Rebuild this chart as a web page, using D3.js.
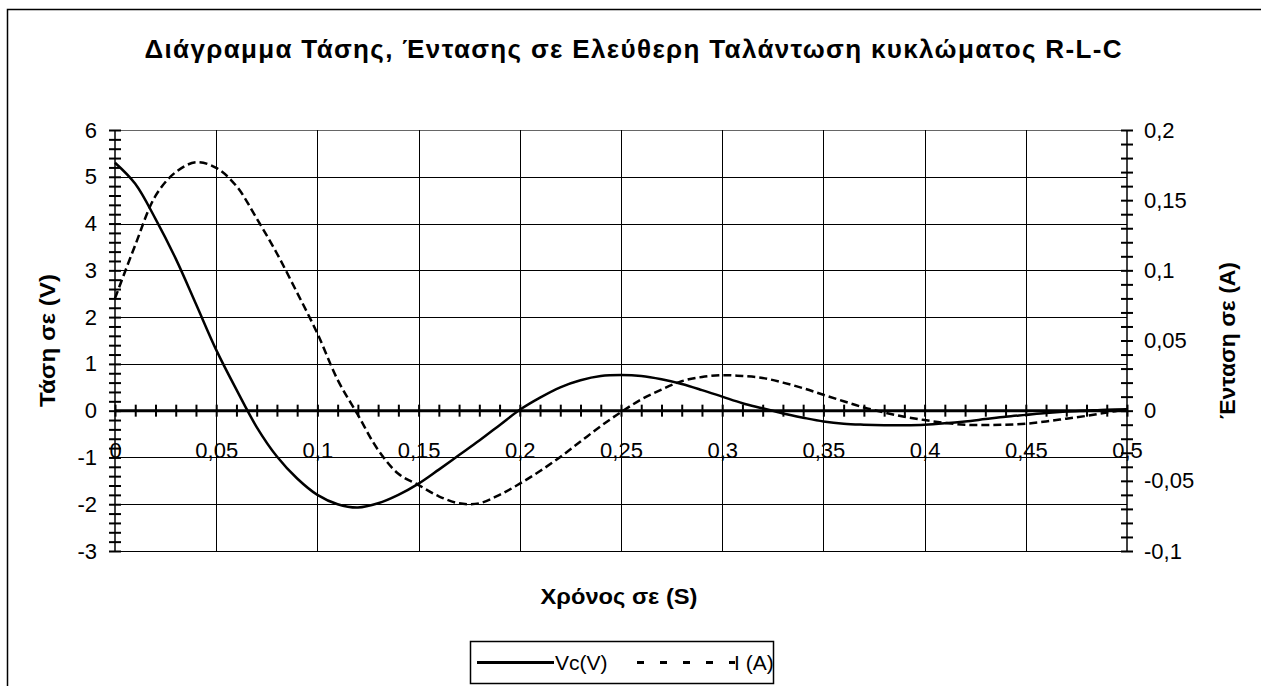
<!DOCTYPE html>
<html>
<head>
<meta charset="utf-8">
<script src="https://cdn.jsdelivr.net/npm/d3@7"></script>
<style>
body { margin: 0; background: #fff; }
svg text { font-family: "Liberation Sans", Arial, sans-serif; fill: #000; }
</style>
</head>
<body>
<svg id="chart" width="1261" height="686"></svg>
<script>
// values, step 0.01 s
const times = [0, 0.01, 0.02, 0.03, 0.04, 0.05, 0.06, 0.07, 0.08, 0.09,
    0.1, 0.11, 0.12, 0.13, 0.14, 0.15, 0.16, 0.17, 0.18, 0.19,
    0.2, 0.21, 0.22, 0.23, 0.24, 0.25, 0.26, 0.27, 0.28, 0.29,
    0.3, 0.31, 0.32, 0.33, 0.34, 0.35, 0.36, 0.37, 0.38, 0.39,
    0.4, 0.41, 0.42, 0.43, 0.44, 0.45, 0.46, 0.47, 0.48, 0.49, 0.5]

const vcValues = [5.30, 4.85, 4.10, 3.25, 2.28, 1.30, 0.45, -0.35, -0.98, -1.45,
    -1.80, -2.00, -2.07, -1.98, -1.80, -1.56, -1.26, -0.95, -0.64, -0.31,
    0.02, 0.28, 0.50, 0.65, 0.74, 0.76, 0.74, 0.67, 0.57, 0.44,
    0.30, 0.16, 0.05, -0.06, -0.15, -0.23, -0.28, -0.30, -0.31, -0.31,
    -0.30, -0.27, -0.23, -0.18, -0.13, -0.09, -0.05, -0.02, 0.00, 0.02, 0.03]

const iValues = [0.080, 0.118, 0.153, 0.170, 0.177, 0.173, 0.160, 0.137, 0.112, 0.084,
    0.055, 0.022, -0.003, -0.028, -0.045, -0.053, -0.061, -0.066, -0.066, -0.060,
    -0.052, -0.043, -0.033, -0.022, -0.011, -0.001, 0.008, 0.015, 0.021, 0.024,
    0.0253, 0.0247, 0.0233, 0.020, 0.016, 0.0113, 0.0067, 0.0023, -0.0013, -0.0043,
    -0.0067, -0.0087, -0.0100, -0.0103, -0.0100, -0.0093, -0.0077, -0.0057, -0.0037, -0.0013, 0.0010]

const xTicks = [0, 0.05, 0.1, 0.15, 0.2, 0.25, 0.3, 0.35, 0.4, 0.45, 0.5]
const xTickLabels = ["0", "0,05", "0,1", "0,15", "0,2", "0,25", "0,3", "0,35", "0,4", "0,45", "0,5"]
const vTicks = [-3, -2, -1, 0, 1, 2, 3, 4, 5, 6]
const iTicks = [-0.1, -0.05, 0, 0.05, 0.1, 0.15, 0.2]
const iTickLabels = ["-0,1", "-0,05", "0", "0,05", "0,1", "0,15", "0,2"]

const seriesNames = ["Vc(V)", "I (A)"]
const title = "Διάγραμμα Τάσης,  Έντασης σε Ελεύθερη Ταλάντωση κυκλώματος R-L-C"

const svg = d3.select("#chart")
const plotLeft = 115, plotRight = 1127, plotTop = 130, plotBottom = 551
const tickFont = 22

const x = d3.scaleLinear().domain([0, 0.5]).range([plotLeft, plotRight])
const yV = d3.scaleLinear().domain([-3, 6]).range([plotBottom, plotTop])
const yI = d3.scaleLinear().domain([-0.1, 0.2]).range([plotBottom, plotTop])

// outer frame (runs off the right and bottom edges)
svg.append("rect")
    .attr("x", 7.5).attr("y", 9.5)
    .attr("width", 1300).attr("height", 720)
    .attr("fill", "none").attr("stroke", "#000").attr("stroke-width", 1.5)

svg.append("text")
    .attr("x", 633).attr("y", 58)
    .attr("text-anchor", "middle")
    .attr("font-size", 26).attr("font-weight", "bold")
    .attr("textLength", 977).attr("lengthAdjust", "spacing")
    .text(title)

// x tick labels go under the grid, the grid lines cut through them
const xLabels = svg.append("g")
    .attr("transform", `translate(0,${yV(0)})`)
    .call(d3.axisBottom(x).tickValues(xTicks).tickFormat((d, i) => xTickLabels[i]).tickSize(0).tickPadding(32))
xLabels.select(".domain").remove()
xLabels.attr("font-family", null).attr("font-size", tickFont)

// grid
svg.append("g").selectAll("line")
    .data(vTicks.filter(v => v !== 0))
    .join("line")
    .attr("x1", plotLeft).attr("x2", plotRight)
    .attr("y1", d => Math.round(yV(d)) + 0.5).attr("y2", d => Math.round(yV(d)) + 0.5)
    .attr("stroke", d => d === 6 ? "#666" : "#000").attr("stroke-width", 1)

svg.append("g").selectAll("line")
    .data(xTicks.filter(t => t > 0 && t < 0.5))
    .join("line")
    .attr("x1", d => Math.round(x(d)) + 0.5).attr("x2", d => Math.round(x(d)) + 0.5)
    .attr("y1", plotTop).attr("y2", plotBottom)
    .attr("stroke", "#000").attr("stroke-width", 1)

// axis lines
svg.append("line")
    .attr("x1", plotLeft).attr("x2", plotLeft).attr("y1", plotTop).attr("y2", plotBottom)
    .attr("stroke", "#000").attr("stroke-width", 1.5)
svg.append("line")
    .attr("x1", plotRight).attr("x2", plotRight).attr("y1", plotTop).attr("y2", plotBottom)
    .attr("stroke", "#000").attr("stroke-width", 1.5)
svg.append("line")
    .attr("x1", plotLeft).attr("x2", plotRight).attr("y1", yV(0)).attr("y2", yV(0))
    .attr("stroke", "#000").attr("stroke-width", 3)

// minor ticks that cross each axis
function crossTicks(g) {
    g.select(".domain").remove()
    g.selectAll(".tick line").attr("stroke", "#000").attr("stroke-width", 2)
}

svg.append("g")
    .attr("transform", `translate(0,${yV(0) - 6})`)
    .call(d3.axisBottom(x).tickValues(d3.range(0, 0.5001, 0.01)).tickSize(12).tickFormat(""))
    .call(crossTicks)

svg.append("g")
    .attr("transform", `translate(${plotLeft + 6},0)`)
    .call(d3.axisLeft(yV).tickValues(d3.range(-3, 6.001, 0.2)).tickSize(12).tickFormat(""))
    .call(crossTicks)

svg.append("g")
    .attr("transform", `translate(${plotRight - 6},0)`)
    .call(d3.axisRight(yI).tickValues(d3.range(-0.1, 0.2001, 0.01)).tickSize(12).tickFormat(""))
    .call(crossTicks)

// tick labels on both value axes
const vLabels = svg.append("g")
    .attr("transform", `translate(${plotLeft},0)`)
    .call(d3.axisLeft(yV).tickValues(vTicks).tickFormat(d => d).tickSize(0).tickPadding(18))
vLabels.select(".domain").remove()
vLabels.attr("font-family", null).attr("font-size", tickFont)

const iLabels = svg.append("g")
    .attr("transform", `translate(${plotRight},0)`)
    .call(d3.axisRight(yI).tickValues(iTicks).tickFormat((d, i) => iTickLabels[i]).tickSize(0).tickPadding(17))
iLabels.select(".domain").remove()
iLabels.attr("font-family", null).attr("font-size", tickFont)

// axis titles
const midY = (plotTop + plotBottom) / 2
svg.append("text")
    .attr("transform", `translate(55,${midY}) rotate(-90)`)
    .attr("text-anchor", "middle")
    .attr("font-size", 22).attr("font-weight", "bold")
    .attr("textLength", 133).attr("lengthAdjust", "spacingAndGlyphs")
    .text("Τάση σε (V)")

svg.append("text")
    .attr("transform", `translate(1235,${midY}) rotate(-90)`)
    .attr("text-anchor", "middle")
    .attr("font-size", 22).attr("font-weight", "bold")
    .attr("textLength", 157).attr("lengthAdjust", "spacingAndGlyphs")
    .text("Ένταση σε (Α)")

svg.append("text")
    .attr("x", 619).attr("y", 604)
    .attr("text-anchor", "middle")
    .attr("font-size", 22).attr("font-weight", "bold")
    .attr("textLength", 157).attr("lengthAdjust", "spacingAndGlyphs")
    .text("Χρόνος σε (S)")

// curves
const vcLine = d3.line()
    .x((d, i) => x(times[i]))
    .y(d => yV(d))
    .curve(d3.curveCatmullRom)

const iLine = d3.line()
    .x((d, i) => x(times[i]))
    .y(d => yI(d))
    .curve(d3.curveCatmullRom)

svg.append("path")
    .datum(vcValues)
    .attr("d", vcLine)
    .attr("fill", "none").attr("stroke", "#000").attr("stroke-width", 2.5)

svg.append("path")
    .datum(iValues)
    .attr("d", iLine)
    .attr("fill", "none").attr("stroke", "#000").attr("stroke-width", 2.5)
    .attr("stroke-dasharray", "8,4")

// legend
const legend = svg.append("g").attr("transform", "translate(470,641)")
legend.append("rect")
    .attr("x", 0.5).attr("y", 0.5).attr("width", 303).attr("height", 42)
    .attr("fill", "#fff").attr("stroke", "#000").attr("stroke-width", 1.5)
legend.append("line")
    .attr("x1", 7).attr("x2", 84).attr("y1", 21.5).attr("y2", 21.5)
    .attr("stroke", "#000").attr("stroke-width", 3)
legend.append("text")
    .attr("x", 85).attr("y", 29).attr("font-size", 21)
    .text(seriesNames[0])
legend.append("line")
    .attr("x1", 167).attr("x2", 265).attr("y1", 21.5).attr("y2", 21.5)
    .attr("stroke", "#000").attr("stroke-width", 3)
    .attr("stroke-dasharray", "7,16")
legend.append("text")
    .attr("x", 264).attr("y", 29).attr("font-size", 21)
    .text(seriesNames[1])
</script>
</body>
</html>
